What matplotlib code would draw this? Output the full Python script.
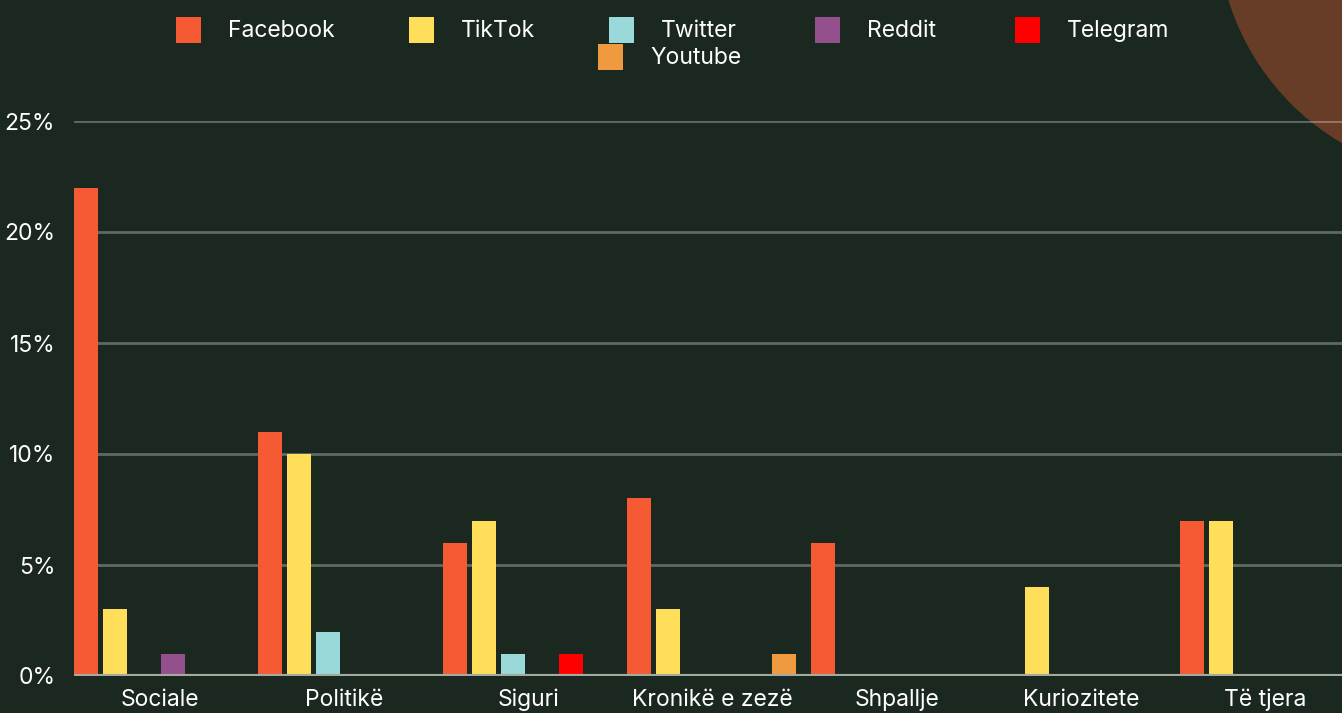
import numpy as np
import matplotlib.pyplot as plt
from matplotlib.patches import Circle, Rectangle

categories = ["Sociale", "Politikë", "Siguri", "Kronikë e zezë", "Shpallje", "Kuriozitete", "Të tjera"]
platforms = ["Facebook", "TikTok", "Twitter", "Reddit", "Telegram", "Youtube"]
facebook = [22, 11, 6, 8, 6, 0, 7]
tiktok = [3, 10, 7, 3, 0, 4, 7]
twitter = [0, 2, 1, 0, 0, 0, 0]
reddit = [1, 0, 0, 0, 0, 0, 0]
telegram = [0, 0, 1, 0, 0, 0, 0]
youtube = [0, 0, 0, 1, 0, 0, 0]
series = [facebook, tiktok, twitter, reddit, telegram, youtube]
colors = ["#F55A32", "#FFDF5A", "#9AD9DA", "#94508C", "#FF0000", "#F09A40"]
yticks = [0, 5, 10, 15, 20, 25]

BG = "#1B2820"
W, H = 1342, 713
plt.rcParams['font.family'] = ['Inter', 'DejaVu Sans']
FS = 16.5

fig = plt.figure(figsize=(W / 100, H / 100), dpi=100, facecolor=BG)

# decorative circle in the top right corner (inches, origin bottom-left)
fig.add_artist(Circle((14.70, (H + 75) / 100), 2.53, transform=fig.dpi_scale_trans,
                      facecolor="#683D28", edgecolor="none", zorder=0))

ax = fig.add_axes([74 / W, (H - 676) / H, (W - 74) / W, 555 / H])
ax.set_facecolor("none")

band = 184.3
width = 24 / band
step = 29 / band
x = np.arange(len(categories))
for j, (vals, c) in enumerate(zip(series, colors)):
    ax.bar(x + (j - 2.5) * step - 0.006, vals, width=width, color=c, zorder=3)

ax.set_xlim(-0.465, -0.465 + (W - 74) / band)
ax.set_ylim(0, 25)
ax.set_yticks(yticks)
ax.set_yticklabels([f"{v}%" for v in yticks])
ax.set_xticks(x)
ax.set_xticklabels(categories)
ax.tick_params(length=0, colors="white", labelsize=FS)
ax.tick_params(axis="y", pad=13.5)
ax.tick_params(axis="x", pad=9)
for v in yticks[1:]:
    ax.axhline(v, color="white", alpha=0.3, lw=2, zorder=1)
ax.axhline(0, color="#A3ABA1", lw=3, zorder=4)
for s in ax.spines.values():
    s.set_visible(False)

# legend, drawn by hand: 5 items in row 1, Youtube centred in row 2
leg_x = [176, 409, 609, 815, 1015, 598]
leg_y = [30, 30, 30, 30, 30, 57]
for name, c, lx, ly in zip(platforms, colors, leg_x, leg_y):
    fig.add_artist(Rectangle((lx / W, (H - ly - 12.5) / H), 25 / W, 25 / H,
                             transform=fig.transFigure, facecolor=c, edgecolor="none"))
    fig.text((lx + 52) / W, (H - ly - 1) / H, name, color="white", fontsize=FS,
             va="center", ha="left")

fig.savefig("out.png", dpi=100, facecolor=BG)
